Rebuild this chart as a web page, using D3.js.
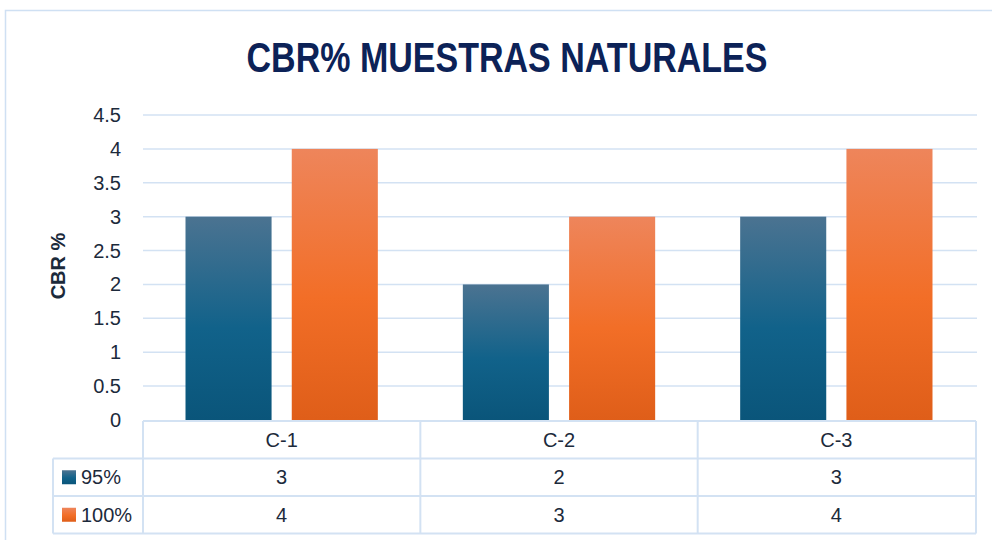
<!DOCTYPE html>
<html>
<head>
<meta charset="utf-8">
<script src="https://cdn.jsdelivr.net/npm/d3@7"></script>
<style>
  body { margin: 0; background: #fff; }
  text { font-family: "Liberation Sans", Arial, sans-serif; fill: #1c2a3b; }
</style>
</head>
<body>
<div id="chart"></div>
<script>
let width = 992,
    height = 540,
    margin = ({ top: 115, right: 16, bottom: 120, left: 143 });

// data
const categories = ["C-1", "C-2", "C-3"];
const seriesNames = ["95%", "100%"];
const values95 = [3, 2, 3];
const values100 = [4, 3, 4];
const yTicks = [0, 0.5, 1, 1.5, 2, 2.5, 3, 3.5, 4, 4.5];

const seriesValues = [values95, values100];
const gridColor = "#d3e2f3";
const fontSize = 20;

const svg = d3.select("#chart")
  .append("svg")
  .attr("width", width)
  .attr("height", height);

// gradients for the two series
const defs = svg.append("defs");
const gradStops = [
  [["0%", "#4b7391"], ["55%", "#11628a"], ["100%", "#0a557a"]],
  [["0%", "#ee855b"], ["55%", "#f26e27"], ["100%", "#df5e19"]]
];
gradStops.forEach((stops, i) => {
  let g = defs.append("linearGradient")
    .attr("id", "grad" + i)
    .attr("x1", 0).attr("y1", 0).attr("x2", 0).attr("y2", 1);
  stops.forEach(s => g.append("stop").attr("offset", s[0]).attr("stop-color", s[1]));
});

// outer chart border
svg.append("rect")
  .attr("x", 5.5).attr("y", 10.5)
  .attr("width", 1000).attr("height", 600)
  .attr("fill", "none")
  .attr("stroke", "#cfe0f3")
  .attr("stroke-width", 1.5);

// title
svg.append("text")
  .attr("x", 507)
  .attr("y", 72)
  .attr("text-anchor", "middle")
  .attr("font-family", "'Liberation Sans Narrow', 'Roboto', sans-serif")
  .attr("font-weight", "bold")
  .attr("font-size", 42)
  .attr("textLength", 521)
  .attr("lengthAdjust", "spacingAndGlyphs")
  .style("fill", "#0c2257")
  .text("CBR% MUESTRAS NATURALES");

let x0 = d3.scaleBand()
  .domain(categories)
  .range([margin.left, 975]);

let x1 = d3.scaleBand()
  .domain(seriesNames)
  .range([0, x0.bandwidth()])
  .paddingInner(0.19)
  .paddingOuter(0.4);

let y = d3.scaleLinear()
  .domain([0, 4.5])
  .range([420, margin.top]);

// gridlines
svg.append("g")
  .selectAll("line")
  .data(yTicks.filter(d => d > 0))
  .join("line")
  .attr("x1", margin.left)
  .attr("x2", 977)
  .attr("y1", d => y(d))
  .attr("y2", d => y(d))
  .attr("stroke", gridColor)
  .attr("stroke-width", 1.5);

// y tick labels
svg.append("g")
  .selectAll("text")
  .data(yTicks)
  .join("text")
  .attr("x", 121)
  .attr("y", d => y(d))
  .attr("dy", "0.35em")
  .attr("text-anchor", "end")
  .attr("font-size", fontSize)
  .text(d => d);

// y label
svg.append("text")
  .attr("transform", "translate(65,266) rotate(-90)")
  .attr("text-anchor", "middle")
  .attr("font-weight", "bold")
  .attr("font-size", 20)
  .text("CBR %");

// bars
seriesNames.forEach((s, i) => {
  svg.append("g")
    .selectAll("rect")
    .data(categories)
    .join("rect")
    .attr("x", (c) => x0(c) + x1(s))
    .attr("width", x1.bandwidth())
    .attr("y", (c, j) => y(seriesValues[i][j]))
    .attr("height", (c, j) => y(0) - y(seriesValues[i][j]))
    .attr("fill", `url(#grad${i})`);
});

// data table
let rowTop = 421, rowH = 37.5, legendLeft = 53, tableRight = 976;
let table = svg.append("g")
  .attr("stroke", gridColor)
  .attr("stroke-width", 2)
  .attr("fill", "none");

// horizontal lines
table.append("line")
  .attr("x1", margin.left).attr("x2", tableRight)
  .attr("y1", rowTop).attr("y2", rowTop);
[1, 2, 3].forEach(r => {
  table.append("line")
    .attr("x1", legendLeft).attr("x2", tableRight)
    .attr("y1", rowTop + r * rowH).attr("y2", rowTop + r * rowH);
});
// vertical lines
table.append("line")
  .attr("x1", legendLeft).attr("x2", legendLeft)
  .attr("y1", rowTop + rowH).attr("y2", rowTop + 3 * rowH);
categories.concat(["end"]).forEach(c => {
  let xx = c === "end" ? tableRight : x0(c);
  table.append("line")
    .attr("x1", xx).attr("x2", xx)
    .attr("y1", rowTop).attr("y2", rowTop + 3 * rowH);
});

// header labels
svg.append("g")
  .selectAll("text")
  .data(categories)
  .join("text")
  .attr("x", c => x0(c) + x0.bandwidth() / 2)
  .attr("y", rowTop + rowH / 2)
  .attr("dy", "0.35em")
  .attr("text-anchor", "middle")
  .attr("font-size", fontSize)
  .text(c => c);

// rows
seriesNames.forEach((s, i) => {
  let ry = rowTop + (i + 1) * rowH + rowH / 2;
  svg.append("rect")
    .attr("x", 62).attr("y", ry - 7)
    .attr("width", 14).attr("height", 14)
    .attr("fill", `url(#grad${i})`);
  svg.append("text")
    .attr("x", 81).attr("y", ry)
    .attr("dy", "0.35em")
    .attr("font-size", fontSize)
    .text(s);
  svg.append("g")
    .selectAll("text")
    .data(categories)
    .join("text")
    .attr("x", c => x0(c) + x0.bandwidth() / 2)
    .attr("y", ry)
    .attr("dy", "0.35em")
    .attr("text-anchor", "middle")
    .attr("font-size", fontSize)
    .text((c, j) => seriesValues[i][j]);
});
</script>
</body>
</html>
